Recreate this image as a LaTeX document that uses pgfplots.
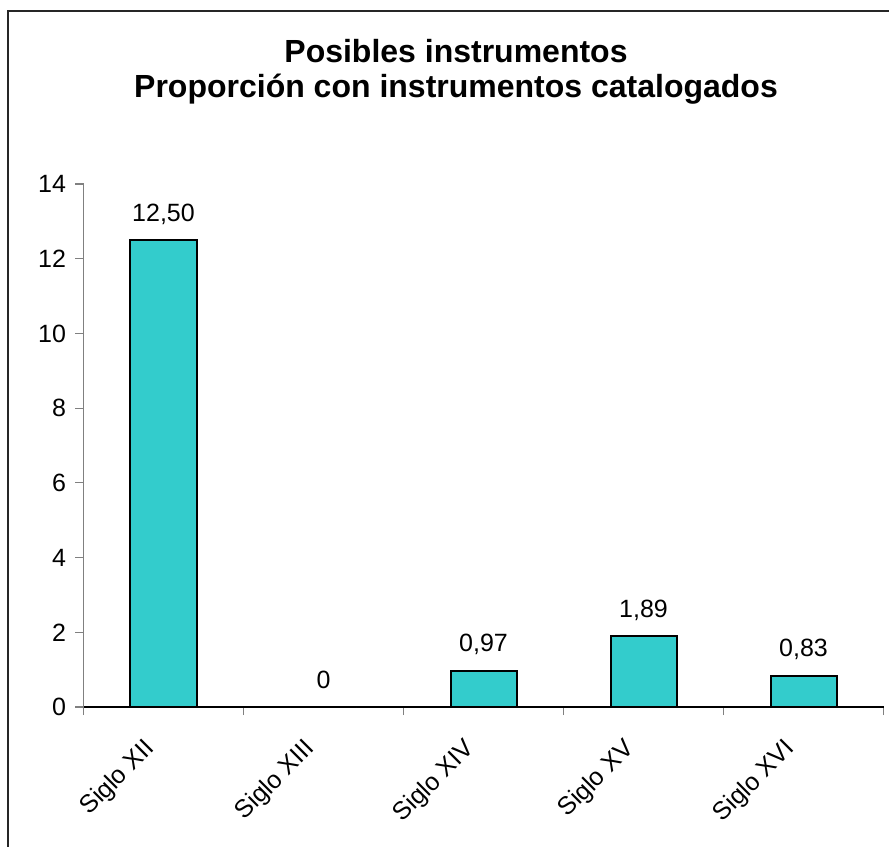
\documentclass[border=0pt]{standalone}
\usepackage{pgfplots}
\pgfplotsset{compat=1.18}
\usepackage{fontspec}
\setmainfont{Liberation Sans}
\definecolor{barc}{HTML}{33CCCC}
\definecolor{axgray}{HTML}{808080}
\begin{document}
\begin{tikzpicture}
\useasboundingbox (-83.5bp,-140bp) rectangle (805.5bp,707bp);
\begin{axis}[
  at={(0,0)}, anchor=south west,
  scale only axis, width=800bp, height=523bp,
  xmin=-0.5, xmax=4.5, ymin=0, ymax=14,
  axis x line=bottom, axis y line=left, axis line style={-},
  x axis line style={black, line width=1.3bp},
  y axis line style={axgray, line width=1.3bp},
  ytick={0,2,...,14},
  xtick={0,...,4},
  xticklabels={Siglo XII,Siglo XIII,Siglo XIV,Siglo XV,Siglo XVI},
  major x tick style={draw=none},
  minor xtick={-0.5,0.5,...,4.5},
  tick align=outside, major tick length=8bp, minor tick length=8bp,
  tick style={axgray, line width=1.1bp},
  every tick label/.append style={font=\fontsize{25bp}{29bp}\selectfont},
  /pgf/number format/assume math mode=true,
  yticklabel style={xshift=-6bp},
  xticklabel style={xshift=-21bp, yshift=-19bp, rotate=45, anchor=north east, inner sep=2bp},
  ybar, bar width=66bp, bar shift=0pt,
  nodes near coords, point meta=explicit symbolic,
  every node near coord/.append style={font=\fontsize{25bp}{29bp}\selectfont, anchor=base, yshift=19bp, inner sep=0pt},
  clip=false,
]
\addplot[fill=barc, draw=black, line width=2bp] table[meta=label] {
x y label
0 12.5 12,50
1 0 0
2 0.97 0,97
3 1.89 1,89
4 0.83 0,83
};
\end{axis}
\draw[line width=1.5bp, black!85] (-75.5bp,-150bp) -- (-75.5bp,696bp) -- (820bp,696bp);
\node[anchor=base, font=\bfseries\fontsize{32bp}{37bp}\selectfont] at (372.5bp,644bp) {Posibles instrumentos};
\node[anchor=base, font=\bfseries\fontsize{32bp}{37bp}\selectfont] at (372.5bp,609bp) {Proporción con instrumentos catalogados};
\end{tikzpicture}
\end{document}
